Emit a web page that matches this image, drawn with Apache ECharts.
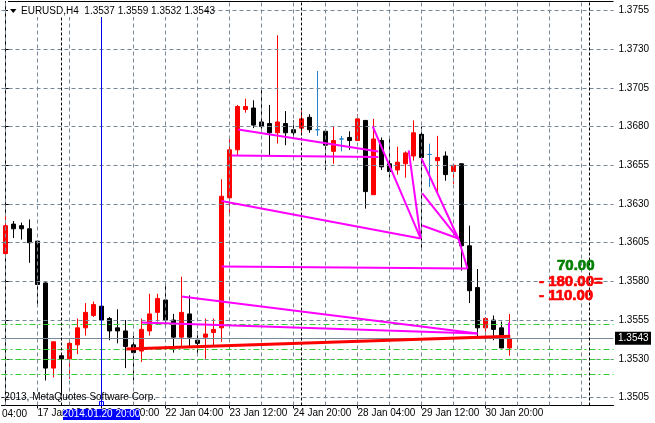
<!DOCTYPE html>
<html><head><meta charset="utf-8">
<script src="https://cdn.jsdelivr.net/npm/echarts@6/dist/echarts.min.js"></script>
<style>html,body{margin:0;padding:0;background:#fff}#c{width:655px;height:423px}</style>
</head><body><div id="c"></div>
<script>
// ---------- data ----------
const titleText = 'EURUSD,H4  1.3537 1.3559 1.3532 1.3543';
const barTimes = [
 '16 Jan 20:00','17 Jan 00:00','17 Jan 04:00','17 Jan 08:00','17 Jan 12:00','17 Jan 16:00','17 Jan 20:00',
 '20 Jan 00:00','20 Jan 04:00','20 Jan 08:00','20 Jan 12:00','20 Jan 16:00','20 Jan 20:00',
 '21 Jan 00:00','21 Jan 04:00','21 Jan 08:00','21 Jan 12:00','21 Jan 16:00','21 Jan 20:00',
 '22 Jan 00:00','22 Jan 04:00','22 Jan 08:00','22 Jan 12:00','22 Jan 16:00','22 Jan 20:00',
 '23 Jan 00:00','23 Jan 04:00','23 Jan 08:00','23 Jan 12:00','23 Jan 16:00','23 Jan 20:00',
 '24 Jan 00:00','24 Jan 04:00','24 Jan 08:00','24 Jan 12:00','24 Jan 16:00','24 Jan 20:00',
 '27 Jan 00:00','27 Jan 04:00','27 Jan 08:00','27 Jan 12:00','27 Jan 16:00','27 Jan 20:00',
 '28 Jan 00:00','28 Jan 04:00','28 Jan 08:00','28 Jan 12:00','28 Jan 16:00','28 Jan 20:00',
 '29 Jan 00:00','29 Jan 04:00','29 Jan 08:00','29 Jan 12:00','29 Jan 16:00','29 Jan 20:00',
 '30 Jan 00:00','30 Jan 04:00','30 Jan 08:00','30 Jan 12:00','30 Jan 16:00','30 Jan 20:00',
 '31 Jan 00:00','31 Jan 04:00','31 Jan 08:00'
];
const opens  = [1.3598,1.3617,1.3616,1.3614,1.3606,1.3579,1.3524,1.3532,1.3530,1.3539,1.3550,1.3558,1.3564,1.3556,1.3550,1.3548,1.3539,1.3535,1.3548,1.3560,1.3568,1.3555,1.3544,1.3559,1.3542,1.3544,1.3547,1.3550,1.3634,1.3665,1.3691,1.3692,1.3683,1.3682,1.3676,1.3682,1.3678,1.3679,1.3686,1.3678,1.3677,1.3664,1.3672,1.3673,1.3671,1.3684,1.3636,1.3671,1.3656,1.3652,1.3656,1.3661,1.3675,1.3662,1.3658,1.3661,1.3651,1.3656,1.3603,1.3576,1.3550,1.3555,1.3550,1.3537];
const highs  = [1.3623,1.3619,1.3618,1.3620,1.3606,1.3580,1.3541,1.3533,1.3541,1.3556,1.3566,1.3567,1.3571,1.3557,1.3562,1.3555,1.3545,1.3556,1.3572,1.3572,1.3579,1.3559,1.3583,1.3571,1.3548,1.3556,1.3556,1.3646,1.3674,1.3694,1.3698,1.3697,1.3705,1.3694,1.3739,1.3690,1.3684,1.3690,1.3688,1.3716,1.3677,1.3680,1.3674,1.3677,1.3688,1.3684,1.3685,1.3673,1.3672,1.3667,1.3664,1.3684,1.3680,1.3669,1.3674,1.3664,1.3656,1.3656,1.3616,1.3588,1.3557,1.3558,1.3554,1.3559];
const lows   = [1.3596,1.3608,1.3607,1.3592,1.3564,1.3516,1.3518,1.3508,1.3517,1.3533,1.3545,1.3557,1.3554,1.3542,1.3540,1.3524,1.3516,1.3528,1.3545,1.3554,1.3550,1.3534,1.3538,1.3538,1.3533,1.3530,1.3538,1.3541,1.3624,1.3661,1.3689,1.3679,1.3678,1.3661,1.3669,1.3668,1.3674,1.3676,1.3676,1.3674,1.3652,1.3656,1.3664,1.3665,1.3671,1.3627,1.3636,1.3652,1.3647,1.3649,1.3647,1.3658,1.3601,1.3641,1.3637,1.3645,1.3643,1.3587,1.3566,1.3543,1.3544,1.3542,1.3537,1.3532];
const closes = [1.3616,1.3614,1.3614,1.3605,1.3578,1.3524,1.3541,1.3530,1.3540,1.3550,1.3560,1.3565,1.3555,1.3548,1.3548,1.3538,1.3534,1.3549,1.3559,1.3569,1.3555,1.3544,1.3560,1.3544,1.3540,1.3546,1.3549,1.3635,1.3665,1.3693,1.3693,1.3681,1.3680,1.3676,1.3683,1.3676,1.3676,1.3685,1.3678,1.3678,1.3668,1.3671,1.3672,1.3671,1.3685,1.3638,1.3672,1.3654,1.3651,1.3657,1.3663,1.3676,1.3660,1.3662,1.3660,1.3649,1.3655,1.3603,1.3574,1.3550,1.3556,1.3549,1.3537,1.3543];
const xTickIndex  = [4, 12, 20, 28, 36, 44, 52, 60];
const xTickLabels = ['17 Jan 12:00','20 Jan 20:00','22 Jan 04:00','23 Jan 12:00','24 Jan 20:00','28 Jan 04:00','29 Jan 12:00','30 Jan 20:00'];
const leftCutLabel = '04:00';
const yTickValues = [1.3505,1.3530,1.3555,1.3580,1.3605,1.3630,1.3655,1.3680,1.3705,1.3730,1.3755];
const gridXIndex = [0,4,8,12,16,20,24,28,32,36,40,44,48,52,56,60,64,68,72];
const separatorIndex = [7, 37, 73];
const cursorIndex = 12;
const cursorLabel = '2014.01.20 20:00';
const bidPrice = 1.3543;
const levelPrices = [1.3552, 1.3536, 1.3530, 1.3520];
// trend lines: [fromIndex, fromPrice, toIndex, toPrice]
const magentaLines = [
 [28.25,1.36613,46.6,1.36604],
 [29.1,1.36781,46.6,1.36639],
 [27.0,1.36319,51.9,1.36077],
 [27.0,1.35896,57.75,1.35883],
 [22.0,1.35702,59.0,1.35463],
 [17.0,1.35535,59.0,1.35463],
 [45.9,1.36801,51.9,1.36077],
 [50.4,1.36646,51.9,1.36077],
 [52.0,1.36594,56.6,1.36077],
 [52.1,1.36368,56.6,1.36077],
 [52.1,1.36161,56.6,1.36077],
 [56.6,1.36077,57.75,1.35883],
 [62.9,1.35535,62.9,1.35438]
];
const redLines = [[15.1,1.35363,63.1,1.35446]];
const noteTexts = ['70.00', '- 180.00=', '- 110.00'];
const noteColors = ['#008000', '#ff0000', '#ff0000'];
const copyrightText = '-2013, MetaQuotes Software Corp.';

// ---------- chart ----------
const FONT = "'Liberation Sans', Arial, sans-serif";
const yMax = 1.3755 + 9 / 15480;
const yMin = yMax - 404 / 15480;
const candles = barTimes.map((t, i) => [i, opens[i], closes[i], lows[i], highs[i]]);
const chart = echarts.init(document.getElementById('c'), null, {renderer: 'canvas'});

function ml(data, style, z) {
  return {type: 'line', data: [], z: z, silent: true,
    markLine: {silent: true, precision: 8, symbol: ['none','none'], animation: false, label: {show: false},
      lineStyle: style, emphasis: {disabled: true}, data: data}};
}

const option = {
  animation: false,
  backgroundColor: '#ffffff',
  textStyle: {fontFamily: FONT},
  grid: {left: 1.5, top: 1.5, width: 612, height: 404, containLabel: false},
  xAxis: {
    type: 'value', min: -0.5, max: 76,
    axisLine: {show: true, lineStyle: {color: '#000', width: 1}},
    axisTick: {show: true, length: 3, customValues: xTickIndex, lineStyle: {color: '#000'}},
    axisLabel: {show: true, customValues: xTickIndex, align: 'left', margin: 3,
      fontSize: 10, color: '#000', fontFamily: FONT,
      formatter: v => xTickLabels[xTickIndex.indexOf(Math.round(v))] || ''},
    splitLine: {show: false}
  },
  yAxis: {
    type: 'value', position: 'right', min: yMin, max: yMax,
    axisLine: {show: true, lineStyle: {color: '#000', width: 1}},
    axisTick: {show: true, length: 4, customValues: yTickValues, lineStyle: {color: '#000'}},
    axisLabel: {show: true, customValues: yTickValues, margin: 5, fontSize: 10, color: '#000',
      fontFamily: FONT, formatter: v => v.toFixed(4)},
    splitLine: {show: false}
  },
  series: [
    ml(gridXIndex.map(v => ({xAxis: v})).concat(yTickValues.map(v => ({yAxis: v}))),
       {color: '#778899', width: 1, type: [4, 3]}, 1),
    ml(levelPrices.map(v => ({yAxis: v})), {color: '#32cd32', width: 1, type: [6, 3, 2, 3]}, 1),
    ml([{yAxis: bidPrice}], {color: '#778899', width: 1, type: 'solid'}, 1),
    ml(separatorIndex.map(v => ({xAxis: v})), {color: '#000', width: 1, type: [3, 2]}, 1),
    {
      type: 'candlestick', z: 3, barWidth: 4, silent: true,
      itemStyle: {color: '#ff0000', color0: '#000000', borderColor: '#ff0000', borderColor0: '#000000',
        borderColorDoji: '#1e80c8', borderWidth: 1},
      data: candles
    },
    ml([{xAxis: cursorIndex}], {color: '#0000ee', width: 1, type: 'solid'}, 4),
    ml(magentaLines.map(l => [{coord: [l[0], l[1]]}, {coord: [l[2], l[3]]}]),
       {color: '#ff00ff', width: 2, type: 'solid'}, 5),
    ml(redLines.map(l => [{coord: [l[0], l[1]]}, {coord: [l[2], l[3]]}]),
       {color: '#ff0000', width: 3, type: 'solid'}, 5)
  ]
};
chart.setOption(option);

// overlays positioned from the axes
const cx = chart.convertToPixel({gridIndex: 0}, [cursorIndex, bidPrice]);
const bidY = cx[1];
const curX = cx[0];
function note(i, x, y) {
  return {type: 'text', x: x, y: y, z: 104, style: {text: noteTexts[i], font: 'bold 15px ' + FONT,
    fill: noteColors[i], stroke: noteColors[i], lineWidth: 0.7, textVerticalAlign: 'middle'}};
}
const graphics = [
  {type: 'line', shape: {x1: 8, y1: 1.5, x2: 613.5, y2: 1.5}, style: {stroke: '#000', lineWidth: 1}, z: 100},
  {type: 'rect', shape: {x: 8, y: 2, width: 196, height: 15}, style: {fill: '#fff'}, z: 100},
  {type: 'polygon', shape: {points: [[10, 9], [16.5, 9], [13.25, 13]]}, style: {fill: '#000'}, z: 101},
  {type: 'text', x: 21, y: 11, style: {text: titleText, font: '10px ' + FONT, fill: '#000', textVerticalAlign: 'middle'}, z: 101},
  {type: 'text', x: 1, y: 397, style: {text: copyrightText, font: '10px ' + FONT, fill: '#000', textVerticalAlign: 'middle'}, z: 101},
  {type: 'text', x: 2, y: 414.5, style: {text: leftCutLabel, font: '10px ' + FONT, fill: '#000', textVerticalAlign: 'middle'}, z: 101},
  {type: 'rect', shape: {x: curX - 38.5, y: 409, width: 77, height: 11}, style: {fill: '#0000ff'}, z: 102},
  {type: 'text', x: curX, y: 414.5, style: {text: cursorLabel, font: '10px ' + FONT, fill: '#fff', textAlign: 'center', textVerticalAlign: 'middle'}, z: 103},
  {type: 'rect', shape: {x: curX - 2, y: 401.5, width: 4, height: 4}, style: {fill: 'none', stroke: '#0000ff', lineWidth: 1}, z: 102},
  {type: 'rect', shape: {x: 615, y: bidY - 7, width: 36, height: 13}, style: {fill: '#000'}, z: 102},
  {type: 'text', x: 618, y: bidY - 0.5, style: {text: bidPrice.toFixed(4), font: '10px ' + FONT, fill: '#fff', textVerticalAlign: 'middle'}, z: 103},
  note(0, 557, 266),
  note(1, 539, 282),
  note(2, 539, 295.5)
];
chart.setOption({graphic: graphics});
</script>
</body></html>
